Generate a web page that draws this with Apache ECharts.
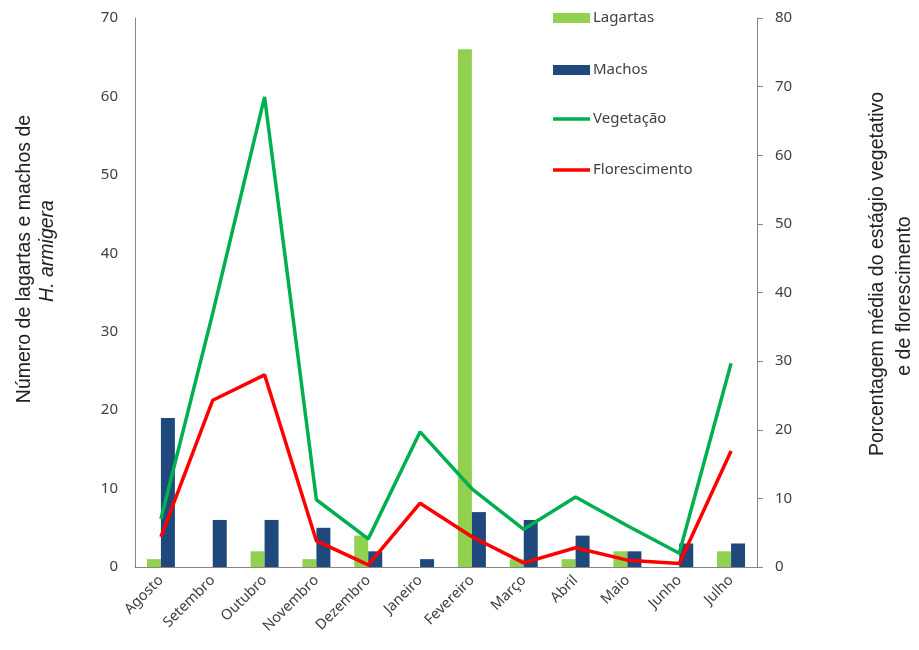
<!DOCTYPE html>
<html>
<head>
<meta charset="utf-8">
<script src="https://cdn.jsdelivr.net/npm/echarts@6/dist/echarts.min.js"></script>
<style>
  html, body { margin: 0; padding: 0; background: #fff; }
  #chart { width: 919px; height: 650px; }
</style>
</head>
<body>
<div id="chart"></div>
<script>
// Months of the sampling period
const months = ['Agosto', 'Setembro', 'Outubro', 'Novembro', 'Dezembro', 'Janeiro',
                'Fevereiro', 'Março', 'Abril', 'Maio', 'Junho', 'Julho'];

// Counts of caterpillars and males (left axis)
const lagartas = [1, 0, 2, 1, 4, 0, 66, 1, 1, 2, 0, 2];
const machos   = [19, 6, 6, 5, 2, 1, 7, 6, 4, 2, 3, 3];

// Mean percentage of plants in vegetative and flowering stage (right axis)
const vegetacao     = [7, 37, 68.5, 9.8, 4.1, 19.7, 11.4, 5.5, 10.2, 6, 2, 29.7];
const florescimento = [4.4, 24.3, 28, 3.8, 0.3, 9.3, 4.4, 0.6, 2.8, 1, 0.5, 16.9];

// Tick settings for both value axes
const leftTicks  = { min: 0, max: 70, interval: 10 };
const rightTicks = { min: 0, max: 80, interval: 10 };

const chart = echarts.init(document.getElementById('chart'));
const axisGray = '#868686';
const labelColor = '#404040';
const font = '"Noto Sans", "DejaVu Sans", sans-serif';
const titleFont = '"Liberation Sans", Arial, sans-serif';

// One legend block per entry so each one sits at its own height
function legendEntry(name, centerY, iconHeight) {
  return {
    orient: 'vertical',
    left: 553,
    top: centerY - 10,
    padding: 0,
    itemWidth: 37,
    itemHeight: iconHeight,
    icon: 'rect',
    textStyle: {
      fontFamily: font, fontSize: 15, color: labelColor,
      lineHeight: 20, padding: [0, 0, 0, -2]
    },
    data: [name]
  };
}

chart.setOption({
  animation: false,
  backgroundColor: '#ffffff',
  grid: { left: 135, right: 162, top: 18, bottom: 83, containLabel: false },
  legend: [
    legendEntry('Lagartas', 18, 10),
    legendEntry('Machos', 70, 10),
    legendEntry('Vegetação', 119, 3.5),
    legendEntry('Florescimento', 170, 3.5)
  ],
  xAxis: {
    type: 'category',
    data: months,
    axisLine: { show: true, lineStyle: { color: axisGray, width: 1 } },
    axisTick: { show: false },
    axisLabel: {
      rotate: 45,
      interval: 0,
      margin: 11,
      fontFamily: font,
      fontSize: 14.5,
      color: labelColor
    }
  },
  yAxis: [
    {
      type: 'value',
      min: leftTicks.min, max: leftTicks.max, interval: leftTicks.interval,
      position: 'left',
      axisLine: { show: true, lineStyle: { color: axisGray, width: 1 } },
      axisTick: { show: false },
      splitLine: { show: false },
      axisLabel: { margin: 17, fontFamily: font, fontSize: 15, color: labelColor }
    },
    {
      type: 'value',
      min: rightTicks.min, max: rightTicks.max, interval: rightTicks.interval,
      position: 'right',
      axisLine: { show: true, lineStyle: { color: axisGray, width: 1 } },
      axisTick: { show: true, inside: false, length: 6, lineStyle: { color: axisGray } },
      splitLine: { show: false },
      axisLabel: { margin: 18, fontFamily: font, fontSize: 15, color: labelColor }
    }
  ],
  series: [
    {
      name: 'Lagartas',
      type: 'bar',
      yAxisIndex: 0,
      data: lagartas,
      barGap: '0%',
      barCategoryGap: '46%',
      itemStyle: { color: '#92D050' }
    },
    {
      name: 'Machos',
      type: 'bar',
      yAxisIndex: 0,
      data: machos,
      itemStyle: { color: '#1F497D' }
    },
    {
      name: 'Vegetação',
      type: 'line',
      yAxisIndex: 1,
      data: vegetacao,
      symbol: 'none',
      showSymbol: false,
      lineStyle: { color: '#00B050', width: 3.5 },
      itemStyle: { color: '#00B050' }
    },
    {
      name: 'Florescimento',
      type: 'line',
      yAxisIndex: 1,
      data: florescimento,
      symbol: 'none',
      showSymbol: false,
      lineStyle: { color: '#FF0000', width: 3.5 },
      itemStyle: { color: '#FF0000' }
    }
  ],
  graphic: [
    {
      type: 'text', x: 25, y: 259, rotation: Math.PI / 2,
      style: {
        text: 'Número de lagartas e machos de',
        fontFamily: titleFont, fontSize: 19.5,
        fill: '#222', align: 'center', verticalAlign: 'middle'
      }
    },
    {
      type: 'text', x: 48, y: 251, rotation: Math.PI / 2,
      style: {
        text: 'H. armigera',
        fontFamily: titleFont, fontSize: 19.5, fontStyle: 'italic',
        fill: '#222', align: 'center', verticalAlign: 'middle'
      }
    },
    {
      type: 'text', x: 878, y: 274, rotation: Math.PI / 2,
      style: {
        text: 'Porcentagem média do estágio vegetativo',
        fontFamily: titleFont, fontSize: 19.5,
        fill: '#222', align: 'center', verticalAlign: 'middle'
      }
    },
    {
      type: 'text', x: 905, y: 296, rotation: Math.PI / 2,
      style: {
        text: 'e de florescimento',
        fontFamily: titleFont, fontSize: 19.5,
        fill: '#222', align: 'center', verticalAlign: 'middle'
      }
    }
  ]
});
</script>
</body>
</html>
